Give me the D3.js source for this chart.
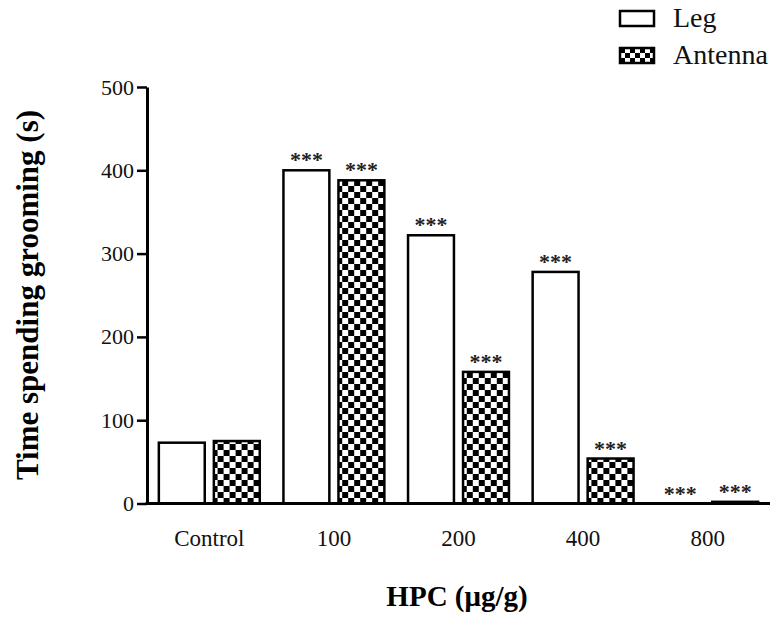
<!DOCTYPE html>
<html>
<head>
  <meta charset="utf-8">
  <title>Grooming time</title>
  <script src="https://d3js.org/d3.v7.min.js"></script>
  <style>
    body { margin: 0; background: white; }
    svg { font-family: "Liberation Serif", "Times New Roman", serif; }
  </style>
</head>
<body>
<script>
  // Data
  var doses = ["Control", "100", "200", "400", "800"];
  var series = ["Leg", "Antenna"];
  var leg = [73, 400, 322, 278, 0];
  var antenna = [75, 388, 158, 54, 2];
  var stars = [["", ""], ["***", "***"], ["***", "***"], ["***", "***"], ["***", "***"]];
  var yTicks = [0, 100, 200, 300, 400, 500];

  var width = 783, height = 624;
  var svg = d3.select("body").append("svg")
      .attr("width", width).attr("height", height);

  // checkerboard fill for Antenna
  var defs = svg.append("defs");
  var pat = defs.append("pattern")
      .attr("id", "checker")
      .attr("patternUnits", "userSpaceOnUse")
      .attr("width", 12).attr("height", 12);
  pat.append("rect").attr("width", 12).attr("height", 12).attr("fill", "#fff");
  pat.append("rect").attr("width", 6).attr("height", 6).attr("fill", "#000");
  pat.append("rect").attr("x", 6).attr("y", 6).attr("width", 6).attr("height", 6).attr("fill", "#000");

  var pat2 = defs.append("pattern")
      .attr("id", "checkerSmall")
      .attr("patternUnits", "userSpaceOnUse")
      .attr("width", 10).attr("height", 10);
  pat2.append("rect").attr("width", 10).attr("height", 10).attr("fill", "#fff");
  pat2.append("rect").attr("width", 5).attr("height", 5).attr("fill", "#000");
  pat2.append("rect").attr("x", 5).attr("y", 5).attr("width", 5).attr("height", 5).attr("fill", "#000");

  // Scales
  var x = d3.scaleBand().domain(doses).range([147, 770]).paddingInner(0.17).paddingOuter(0.085);
  var xs = d3.scaleBand().domain(series).range([0, x.bandwidth()]).paddingInner(0.12);
  var y = d3.scaleLinear().domain([0, 500]).range([503.5, 87]);

  var data = doses.map(function(d, i) {
    return {dose: d, values: [
      {key: "Leg", v: leg[i], s: stars[i][0]},
      {key: "Antenna", v: antenna[i], s: stars[i][1]}
    ]};
  });

  // Bars
  var grp = svg.selectAll(".grp").data(data).enter().append("g")
      .attr("transform", function(d) { return "translate(" + x(d.dose) + ",0)"; });

  grp.selectAll("rect").data(function(d) { return d.values; }).enter().append("rect")
      .attr("x", function(d) { return xs(d.key) + 1.25; })
      .attr("width", xs.bandwidth() - 2.5)
      .attr("y", function(d) { return y(d.v); })
      .attr("height", function(d) { return y(0) - y(d.v); })
      .attr("fill", function(d) { return d.key == "Leg" ? "#fff" : "url(#checker)"; })
      .attr("stroke", "#000")
      .attr("stroke-width", function(d) { return d.v > 0 ? 2.5 : 0; });

  // significance stars
  grp.selectAll(".star").data(function(d) { return d.values; }).enter().append("text")
      .attr("x", function(d) { return xs(d.key) + xs.bandwidth() / 2; })
      .attr("y", function(d) { return y(d.v) - 3; })
      .attr("text-anchor", "middle")
      .style("font-size", "22px")
      .style("font-weight", "bold")
      .attr("fill", "#222")
      .text(function(d) { return d.s; });

  // Axes
  var yAxis = svg.append("g")
      .attr("transform", "translate(147,0)")
      .call(d3.axisLeft(y).tickValues(yTicks).tickSize(10).tickPadding(3).tickSizeOuter(0));
  yAxis.select(".domain").attr("stroke-width", 3);
  yAxis.selectAll(".tick line").attr("stroke-width", 2.5);
  yAxis.selectAll("text").style("font-size", "22px").style("font-family", "'Liberation Serif', serif").attr("fill", "#111");

  var xAxis = svg.append("g")
      .attr("transform", "translate(0,503.5)")
      .call(d3.axisBottom(x).tickSize(0).tickPadding(26).tickSizeOuter(0));
  xAxis.select(".domain").attr("stroke-width", 3).attr("d", "M145.5,0H770");
  xAxis.selectAll("text").style("font-size", "23px").style("font-family", "'Liberation Serif', serif").attr("fill", "#111");

  // Titles
  svg.append("text")
      .attr("transform", "translate(38,295) rotate(-90)")
      .attr("text-anchor", "middle")
      .style("font-size", "31px").style("font-weight", "bold")
      .text("Time spending grooming (s)");

  svg.append("text")
      .attr("x", 457).attr("y", 606)
      .attr("text-anchor", "middle")
      .style("font-size", "29px").style("font-weight", "bold")
      .text("HPC (\u03bcg/g)");

  // Legend
  var lg = svg.selectAll(".lg").data(series).enter().append("g")
      .attr("transform", function(d, i) { return "translate(620," + (11 + i * 37) + ")"; });
  lg.append("rect")
      .attr("width", 34).attr("height", 15)
      .attr("fill", function(d) { return d == "Leg" ? "#fff" : "url(#checkerSmall)"; })
      .attr("stroke", "#000").attr("stroke-width", 2.5);
  lg.append("text")
      .attr("x", 53).attr("y", 16)
      .style("font-size", "28px")
      .attr("fill", "#111")
      .text(function(d) { return d; });
</script>
</body>
</html>
